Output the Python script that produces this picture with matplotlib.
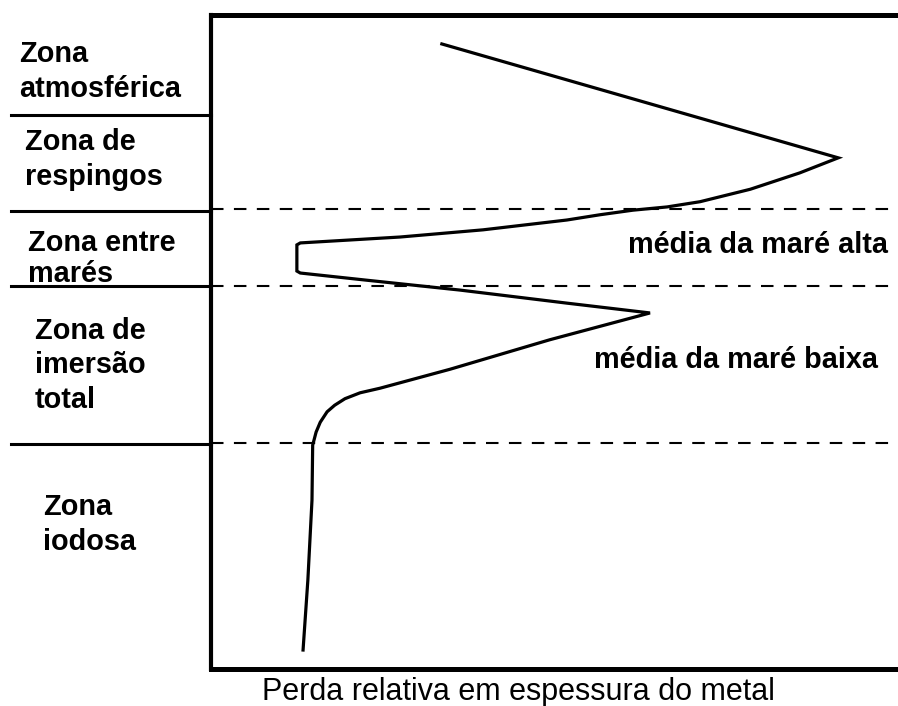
#perfil de corrosão do aço em ambiente marinho, por zona

import matplotlib
matplotlib.use('Agg')  # pour sauvegarder sans afficher
import matplotlib.pyplot as plt

# perda relativa (unidades arbitrarias 0-100) e profundidade (0 = topo, 100 = fundo)
perda = [33.6, 91.3, 85.7, 78.5, 71.2, 66.4, 61.4, 56.6, 51.8, 39.6, 27.5, 13.0, 12.5,
         12.5, 13.0, 22.7, 36.2, 51.8, 63.9, 49.3, 34.8, 24.6, 21.7, 19.5, 18.0,
         16.9, 15.9, 15.3, 14.8, 14.7, 14.1, 13.4]
profundidade = [4.5, 21.9, 24.2, 26.7, 28.6, 29.4, 29.9, 30.6, 31.4, 32.9, 34.0, 34.9, 35.2,
                39.2, 39.5, 40.6, 42.1, 44.1, 45.6, 49.7, 54.2, 57.1, 57.8, 58.7, 59.7,
                60.7, 62.3, 63.8, 65.8, 74.2, 86.4, 97.1]

# limites entre zonas (a primeira só aparece do lado esquerdo)
limites_zonas = [15.4, 30.0, 41.5, 65.6]
limites_tracejados = [29.7, 41.5, 65.5]

zonas = ["Zona\natmosférica", "Zona de\nrespingos", "Zona entre\nmarés",
         "Zona de\nimersão\ntotal", "Zona\niodosa"]
rotulos_mare = ["média da maré alta", "média da maré baixa"]
titulo_x = "Perda relativa em espessura do metal"

W, H = 898, 706
fig = plt.figure(figsize=(W / 100, H / 100), dpi=100)
ax = fig.add_axes([211 / W, (H - 669) / H, 1 - 211 / W, (669 - 14.5) / H])

ax.plot(perda, profundidade, color='black', lw=2.3, solid_joinstyle='miter')

for y in limites_tracejados:
    ax.axhline(y, color='black', lw=1.5, dashes=(6, 5))

for y in limites_zonas:
    ax.axhline(y, xmin=-0.291, xmax=0, color='black', lw=2.2, clip_on=False)

ax.set_xlim(0, 100)
ax.set_ylim(100, 0)
ax.set_xticks([])
ax.set_yticks([])
ax.spines['right'].set_visible(False)
ax.spines['top'].set_linewidth(3.6)
ax.spines['bottom'].set_linewidth(3.6)
ax.spines['left'].set_linewidth(3.0)

fonte = dict(family=['Liberation Sans', 'DejaVu Sans'], fontsize=20.8,
             fontweight='bold', va='baseline', ha='left')

# posicoes em pixels (x, linha de base da ultima linha, espacamento)
pos_zonas = [(19, 97, 1.32), (25, 185, 1.3), (28, 282, 1.15), (35, 408, 1.3), (43, 550, 1.3)]
for texto, (x, y, esp) in zip(zonas, pos_zonas):
    fig.text(x / W, 1 - y / H, texto, linespacing=esp, **fonte)

pos_mare = [(628, 253), (594, 368)]
for texto, (x, y) in zip(rotulos_mare, pos_mare):
    fig.text(x / W, 1 - y / H, texto, **fonte)

fig.text(518 / W, 1 - 700 / H, titulo_x, family=['Liberation Sans', 'DejaVu Sans'],
         fontsize=22, ha='center', va='baseline')

plt.savefig('out.png', dpi=100)
plt.close()
